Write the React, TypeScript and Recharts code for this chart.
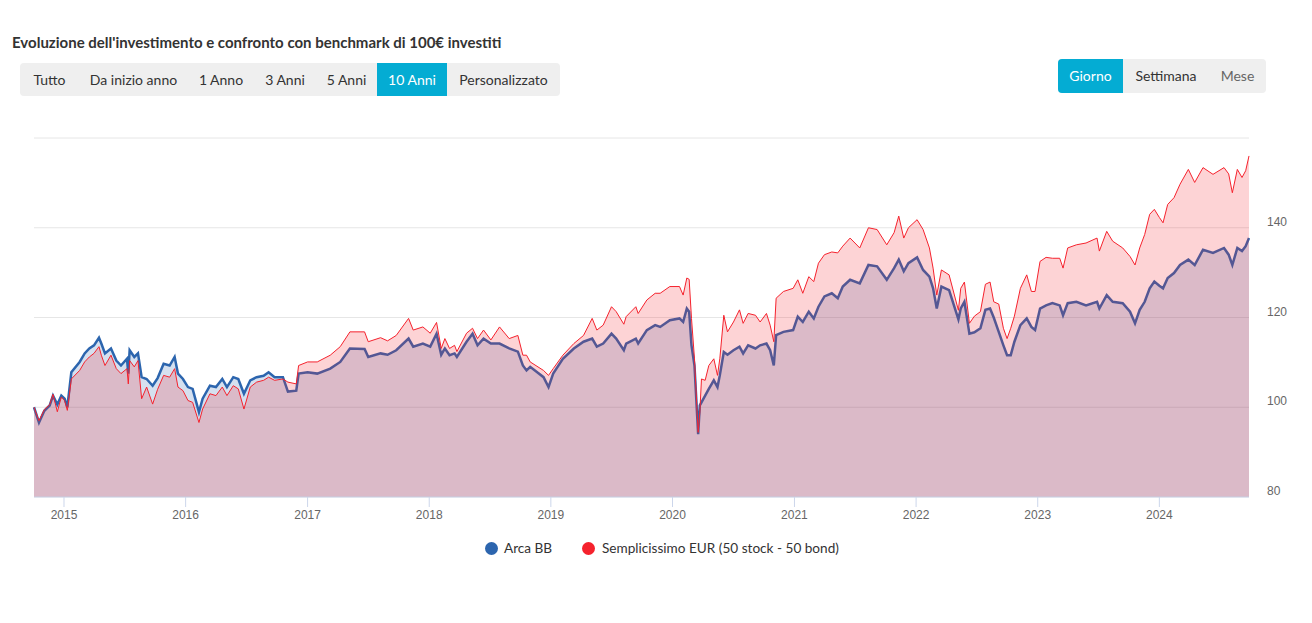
import React from 'react';
import { AreaChart, Area, XAxis, YAxis, CartesianGrid } from 'recharts';

const title = "Evoluzione dell'investimento e confronto con benchmark di 100€ investiti";
const rangeButtons = ['Tutto', 'Da inizio anno', '1 Anno', '3 Anni', '5 Anni', '10 Anni', 'Personalizzato'];
const selectedRange = '10 Anni';
const periodButtons = ['Giorno', 'Settimana', 'Mese'];
const selectedPeriod = 'Giorno';
const seriesNames = ['Arca BB', 'Semplicissimo EUR (50 stock - 50 bond)'];

const dates = [
  '2014-10-03', '2014-10-18', '2014-11-03', '2014-11-19', '2014-11-29', '2014-12-12', '2014-12-24',
  '2015-01-03', '2015-01-11', '2015-01-23', '2015-02-17', '2015-03-04', '2015-03-18', '2015-04-01',
  '2015-04-16', '2015-04-23', '2015-05-04', '2015-05-22', '2015-06-07', '2015-06-21', '2015-07-09',
  '2015-07-13', '2015-07-17', '2015-07-31', '2015-08-11', '2015-08-22', '2015-09-06', '2015-09-24',
  '2015-10-09', '2015-10-27', '2015-11-14', '2015-11-29', '2015-12-09', '2015-12-24',
  '2016-01-08', '2016-01-22', '2016-02-10', '2016-02-21', '2016-03-14', '2016-04-01', '2016-04-20',
  '2016-05-04', '2016-05-23', '2016-06-07', '2016-06-24', '2016-07-13', '2016-08-01', '2016-08-22',
  '2016-09-06', '2016-09-24', '2016-10-19', '2016-11-03', '2016-11-28', '2016-12-05',
  '2017-01-01', '2017-01-30', '2017-03-10', '2017-04-09', '2017-05-08', '2017-06-21', '2017-07-02',
  '2017-08-08', '2017-08-29', '2017-09-24', '2017-10-31', '2017-11-14', '2017-12-13',
  '2018-01-04', '2018-01-23', '2018-02-06', '2018-02-17', '2018-03-03', '2018-03-18', '2018-03-25',
  '2018-04-23', '2018-05-11', '2018-05-26', '2018-06-13', '2018-07-05', '2018-07-31', '2018-08-29',
  '2018-09-24', '2018-10-09', '2018-10-20', '2018-10-31', '2018-12-10', '2018-12-25',
  '2019-01-08', '2019-02-06', '2019-03-11', '2019-04-09', '2019-05-05', '2019-05-19', '2019-06-07',
  '2019-07-02', '2019-07-16', '2019-08-08', '2019-08-15', '2019-09-13', '2019-09-20', '2019-10-16',
  '2019-11-10', '2019-11-25', '2019-12-24',
  '2020-01-22', '2020-02-02', '2020-02-13', '2020-02-20', '2020-02-27', '2020-03-07', '2020-03-18',
  '2020-03-23', '2020-03-28', '2020-04-08', '2020-04-19', '2020-05-04', '2020-05-15', '2020-05-22',
  '2020-06-03', '2020-06-14', '2020-07-02', '2020-07-20', '2020-07-31', '2020-08-15', '2020-09-06',
  '2020-09-20', '2020-10-09', '2020-10-20', '2020-10-31', '2020-11-07', '2020-11-29', '2020-12-28',
  '2021-01-11', '2021-01-26', '2021-02-13', '2021-02-28', '2021-03-14', '2021-04-01', '2021-04-23',
  '2021-05-11', '2021-05-26', '2021-06-17', '2021-07-16', '2021-08-11', '2021-09-06', '2021-10-05',
  '2021-10-27', '2021-11-10', '2021-11-25', '2021-12-09',
  '2022-01-04', '2022-01-22', '2022-02-10', '2022-02-21', '2022-03-04', '2022-03-18', '2022-04-10',
  '2022-05-08', '2022-05-15', '2022-05-26', '2022-06-10', '2022-06-25', '2022-07-13', '2022-07-28',
  '2022-08-11', '2022-08-22', '2022-09-06', '2022-09-20', '2022-10-01', '2022-10-12', '2022-10-23',
  '2022-11-10', '2022-11-29', '2022-12-13', '2022-12-24',
  '2023-01-08', '2023-01-26', '2023-02-14', '2023-03-08', '2023-03-18', '2023-04-01', '2023-04-27',
  '2023-05-26', '2023-06-28', '2023-07-05', '2023-07-27', '2023-08-14', '2023-09-13', '2023-10-05',
  '2023-10-20', '2023-11-03', '2023-11-18', '2023-12-03', '2023-12-17',
  '2024-01-01', '2024-01-12', '2024-01-26', '2024-02-14', '2024-03-03', '2024-03-28', '2024-04-16',
  '2024-05-11', '2024-06-10', '2024-07-13', '2024-07-27', '2024-08-07', '2024-08-22', '2024-09-05',
  '2024-09-16', '2024-09-26',
];

const arcaBB = [
  100.0, 96.6, 99.2, 100.4, 102.6, 100.6, 102.6,
  101.9, 100.0, 107.8, 110.1, 112.0, 113.1, 113.8,
  115.5, 114.2, 112.0, 113.1, 110.4, 109.3, 110.8,
  107.5, 112.7, 111.2, 112.0, 106.7, 106.3, 104.8,
  106.5, 109.7, 109.3, 111.2, 107.5, 106.3,
  104.5, 104.1, 98.9, 101.9, 104.8, 104.5, 106.3,
  104.5, 106.7, 106.3, 103.0, 106.0, 106.7, 107.0,
  107.8, 106.7, 106.7, 103.5, 103.7, 107.5,
  107.8, 107.5, 108.6, 110.1, 113.1, 113.0, 111.2,
  112.0, 111.7, 112.7, 115.3, 113.5, 114.2,
  113.5, 116.4, 111.7, 113.1, 111.6, 112.0, 111.2,
  114.6, 116.4, 113.8, 115.3, 114.2, 114.2, 113.1,
  112.4, 109.3, 108.2, 109.0, 106.7, 104.5,
  107.5, 110.8, 113.1, 114.6, 115.3, 113.5, 114.2,
  116.4, 115.3, 112.7, 114.2, 115.3, 114.2, 117.2,
  118.3, 117.9, 119.4,
  119.8, 119.0, 122.0, 121.3, 113.8, 109.3, 94.0,
  100.4, 101.1, 102.6, 104.1, 106.0, 104.5, 107.1,
  112.3, 111.7, 112.7, 113.5, 112.0, 113.8, 113.1,
  113.8, 114.2, 112.7, 109.3, 116.1, 116.8, 117.2,
  120.2, 119.0, 121.3, 119.8, 122.4, 124.7, 125.4,
  124.3, 126.9, 128.4, 127.6, 131.7, 131.4, 128.4,
  131.0, 132.9, 130.3, 132.1,
  133.4, 130.6, 129.1, 126.5, 122.0, 126.9, 126.1,
  119.6, 122.0, 123.5, 116.4, 116.7, 117.6, 121.7,
  122.0, 120.0, 116.8, 113.8, 111.6, 111.6, 114.6,
  118.3, 119.8, 117.9, 117.2,
  122.0, 122.7, 123.2, 122.7, 120.5, 123.2, 123.5,
  122.7, 123.5, 122.0, 125.0, 123.5, 123.2, 121.3,
  118.7, 121.7, 123.5, 126.5, 128.0,
  127.1, 126.5, 128.8, 129.9, 131.7, 132.9, 131.7,
  135.1, 134.4, 135.5, 134.0, 131.7, 135.5, 134.8,
  135.9, 137.7,
];

const semplicissimo = [
  100.0, 97.0, 99.5, 100.6, 102.9, 99.0, 102.3,
  101.5, 99.3, 106.3, 108.2, 110.1, 111.2, 112.0,
  113.5, 111.6, 109.3, 111.6, 108.6, 107.5, 108.6,
  105.2, 110.4, 109.0, 110.4, 101.9, 104.5, 100.7,
  104.0, 107.1, 106.7, 108.6, 104.5, 103.7,
  101.5, 101.1, 96.6, 99.6, 103.0, 102.6, 104.5,
  102.6, 104.8, 104.1, 99.6, 104.5, 105.6, 106.0,
  106.7, 106.0, 106.3, 105.6, 105.2, 109.3,
  110.1, 110.1, 111.6, 113.5, 116.8, 116.8, 114.6,
  115.5, 114.8, 116.0, 119.8, 117.2, 117.9,
  116.5, 118.9, 113.1, 115.3, 113.1, 113.8, 112.4,
  116.5, 117.6, 115.3, 117.2, 115.0, 117.9, 115.3,
  116.0, 111.6, 111.6, 110.1, 108.2, 107.1,
  108.6, 111.6, 114.2, 116.0, 119.8, 117.2, 118.3,
  122.4, 121.3, 118.5, 120.2, 122.4, 120.9, 123.9,
  125.4, 125.4, 126.9,
  126.9, 125.0, 128.8, 128.5, 119.8, 110.8, 94.4,
  98.9, 106.3, 106.0, 109.3, 110.8, 107.1, 110.8,
  120.5, 116.8, 119.0, 121.7, 118.7, 120.9, 120.5,
  119.0, 120.9, 118.3, 114.6, 124.3, 125.8, 126.5,
  128.4, 125.4, 129.1, 128.0, 132.1, 134.0, 134.6,
  134.4, 135.9, 137.7, 135.5, 140.0, 139.6, 136.2,
  138.9, 142.6, 137.7, 140.0,
  141.8, 139.6, 135.5, 131.0, 125.0, 130.6, 129.5,
  121.6, 126.5, 127.9, 118.7, 120.3, 121.3, 127.4,
  127.9, 123.5, 123.0, 117.6, 115.3, 117.6, 120.3,
  126.5, 129.5, 125.8, 125.8,
  132.5, 133.4, 133.2, 133.2, 131.0, 135.5, 136.2,
  136.6, 137.7, 134.8, 139.2, 137.0, 135.5, 133.6,
  131.7, 135.5, 138.5, 143.0, 144.1,
  142.3, 141.1, 145.2, 146.7, 149.7, 153.0, 150.1,
  153.4, 151.9, 153.4, 152.0, 147.8, 153.0, 151.2,
  152.7, 156.0,
];

const yearTicks = [2015, 2016, 2017, 2018, 2019, 2020, 2021, 2022, 2023, 2024];
const valueTicks = [80, 100, 120, 140, 160];

const BLUE = '#2c65ae';
const RED = '#f5222d';
const ACCENT = '#04acd3';
const FONT = 'Lato, "Open Sans", sans-serif';
const AXIS_FONT = '"Liberation Sans", Arial, sans-serif';

const toTs = (d: string) => Date.parse(d + 'T00:00:00Z');
const data = dates.map((d, i) => ({ t: toTs(d), arca: arcaBB[i], semp: semplicissimo[i] }));
const xTicks = yearTicks.map((y) => Date.UTC(y, 0, 1));

const rangeWidths = [59, 109, 66, 62, 61, 70, 113];
const periodWidths = [65, 86, 57];

const YTick = (props: any) => {
  const { y, payload } = props;
  if (payload.value === valueTicks[valueTicks.length - 1]) return null;
  return (
    <text x={1267} y={y - 2} fill="#666" fontSize={12} fontFamily={AXIS_FONT} textAnchor="start">
      {payload.value}
    </text>
  );
};

const ButtonGroup = ({ labels, widths, selected, left, top, height, colors }: any) => (
  <div
    style={{
      position: 'absolute', left, top, height, display: 'flex', background: '#efefef',
      borderRadius: 4, overflow: 'hidden',
    }}
  >
    {labels.map((l: string, i: number) => (
      <div
        key={l}
        style={{
          width: widths[i], height, lineHeight: height + 'px', textAlign: 'center',
          background: l === selected ? ACCENT : 'transparent',
          color: l === selected ? '#fff' : (colors ? colors[i] : '#333'),
          fontFamily: FONT, fontSize: 14,
        }}
      >
        {l}
      </div>
    ))}
  </div>
);

export default function App() {
  return (
    <div style={{ position: 'absolute', left: 0, top: 0, width: 1312, height: 623, background: '#fff', overflow: 'hidden' }}>
      <div
        style={{
          position: 'absolute', left: 12, top: 33, fontFamily: FONT, fontSize: 15, fontWeight: 700,
          color: '#333', whiteSpace: 'nowrap',
        }}
      >
        {title}
      </div>
      <ButtonGroup labels={rangeButtons} widths={rangeWidths} selected={selectedRange} left={20} top={63} height={33} />
      <ButtonGroup
        labels={periodButtons}
        widths={periodWidths}
        selected={selectedPeriod}
        left={1058}
        top={59}
        height={34}
        colors={['#333', '#333', '#666']}
      />
      <div style={{ position: 'absolute', left: 0, top: 0 }}>
        <AreaChart width={1312} height={623} data={data} margin={{ top: 138, right: 0, bottom: 96, left: 34 }}>
          <CartesianGrid vertical={false} stroke="#e6e6e6" />
          <XAxis
            dataKey="t"
            type="number"
            domain={['dataMin', 'dataMax']}
            ticks={xTicks}
            interval={0}
            tickFormatter={(v: number) => String(new Date(v).getUTCFullYear())}
            height={30}
            tickSize={10}
            tickMargin={3}
            axisLine={{ stroke: '#ccd6eb' }}
            tickLine={{ stroke: '#ccd6eb' }}
            tick={{ fill: '#666', fontSize: 12, fontFamily: AXIS_FONT }}
          />
          <YAxis
            orientation="right"
            domain={[80, 160]}
            ticks={valueTicks}
            interval={0}
            width={63}
            axisLine={false}
            tickLine={false}
            allowDataOverflow
            tick={<YTick />}
          />
          <Area
            type="linear"
            dataKey="arca"
            name={seriesNames[0]}
            stroke={BLUE}
            strokeWidth={2.5}
            fill={BLUE}
            fillOpacity={0.2}
            dot={false}
            activeDot={false}
            isAnimationActive={false}
          />
          <Area
            type="linear"
            dataKey="semp"
            name={seriesNames[1]}
            stroke={RED}
            strokeWidth={1}
            fill={RED}
            fillOpacity={0.2}
            dot={false}
            activeDot={false}
            isAnimationActive={false}
          />
        </AreaChart>
      </div>
      {[BLUE, RED].map((c, i) => (
        <div
          key={c}
          style={{
            position: 'absolute', left: i === 0 ? 485 : 582, top: 540, display: 'flex', alignItems: 'center',
            fontFamily: FONT, fontSize: 13.6, color: '#333', whiteSpace: 'nowrap',
          }}
        >
          <span style={{ display: 'inline-block', width: 13, height: 13, borderRadius: '50%', background: c, marginRight: i === 0 ? 6 : 7 }} />
          <span style={{ lineHeight: '16px' }}>{seriesNames[i]}</span>
        </div>
      ))}
    </div>
  );
}
